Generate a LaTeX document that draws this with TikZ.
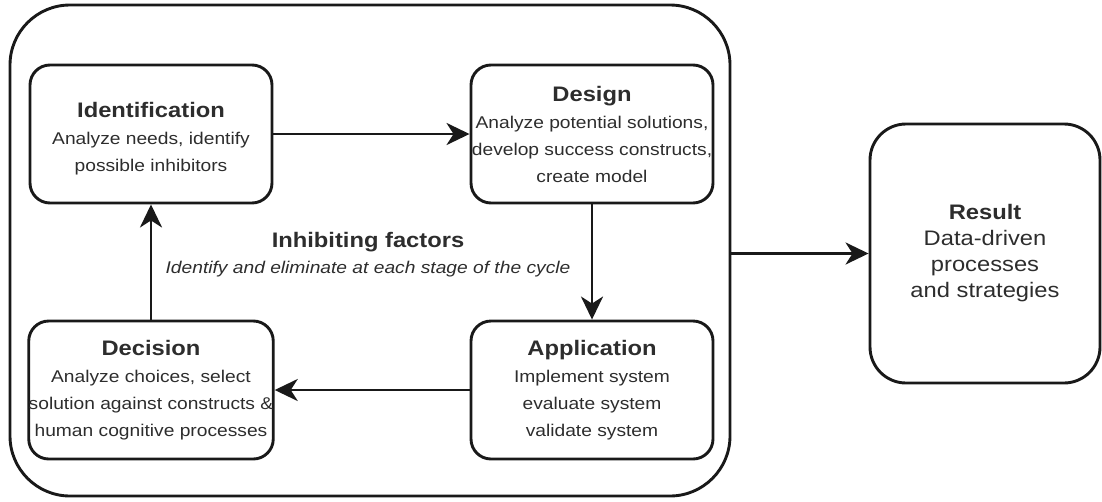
\documentclass[tikz,border=0pt]{standalone}
\usepackage{fontspec}
\setmainfont[FakeStretch=1.13]{Liberation Sans}
\usetikzlibrary{arrows.meta}
\definecolor{ink}{RGB}{25,25,25}
\definecolor{txt}{RGB}{45,45,45}

% bold heading line inside a stage box
\newcommand{\stagehead}[1]{{\fontsize{21}{27}\selectfont\bfseries #1}}

\begin{document}
\begin{tikzpicture}[x=1pt,y=-1pt,
  frame/.style={draw=ink, line width=2.9pt, rounded corners=60pt,
    minimum width=720pt, minimum height=491pt, inner sep=0pt},
  stage/.style={draw=ink, line width=2.9pt, rounded corners=20pt,
    minimum width=242pt, minimum height=138pt, inner sep=0pt,
    align=center, text=txt, font=\fontsize{17}{27}\selectfont},
  outcome/.style={draw=ink, line width=2.9pt, rounded corners=36pt,
    minimum width=230pt, minimum height=259pt, inner sep=0pt,
    align=center, text=txt, font=\fontsize{21}{26}\selectfont},
  flow/.style={draw=ink, line width=2.9pt,
    -{Stealth[length=23pt,width=22pt,inset=7pt]}},
  note/.style={align=center, text=txt, inner sep=0pt,
    font=\fontsize{17}{26}\selectfont}
]
\useasboundingbox (0,0) rectangle (1102,501);

% enclosing cycle frame
\node[frame] (cycle) at (370,250.5) {};

% the four stages of the cycle
\node[stage] (ident) at (151,134)
  {\rule{0pt}{25pt}\stagehead{Identification}\\Analyze needs, identify\\possible inhibitors};
\node[stage] (design) at (592,134)
  {\stagehead{Design}\\Analyze potential solutions,\\develop success constructs,\\create model};
\node[stage] (decision) at (151,390)
  {\stagehead{Decision}\\Analyze choices, select\\solution against constructs \&\\human cognitive processes};
\node[stage] (apply) at (592,390)
  {\stagehead{Application}\\Implement system\\evaluate system\\validate system};

% central note
\node[note] (inhib) at (368,255)
  {\stagehead{Inhibiting factors}\\\itshape Identify and eliminate at each stage of the cycle};

% outcome
\node[outcome] (result) at (985,253.5)
  {\textbf{Result}\\Data-driven\\processes\\and strategies};

% cycle connectors
\draw[flow] (ident) -- (design);
\draw[flow] (design) -- (apply);
\draw[flow] (apply) -- (decision);
\draw[flow] (decision) -- (ident);

% from the cycle to the outcome
\draw[flow] (cycle.east |- result.west) -- (result.west);
\end{tikzpicture}
\end{document}
